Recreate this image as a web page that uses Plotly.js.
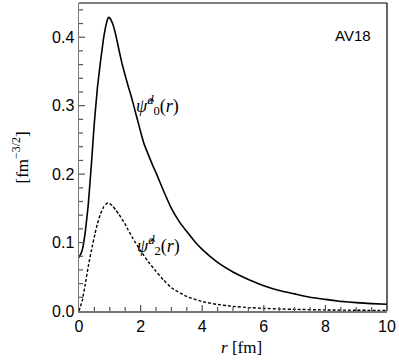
<!DOCTYPE html>
<html>
<head>
<meta charset="utf-8">
<script src="https://cdn.plot.ly/plotly-3.0.1.min.js"></script>
<style>html,body{margin:0;padding:0;background:#fff;}#chart{width:399px;height:360px;}</style>
</head>
<body>
<div id="chart"></div>
<script>
const rS = [0, 0.1, 0.2, 0.3, 0.4, 0.5, 0.6, 0.7, 0.8, 0.9, 0.95, 1.0, 1.1, 1.2, 1.3, 1.4, 1.5, 1.6, 1.7, 1.8, 1.9, 2.0, 2.1, 2.2, 2.3, 2.4, 2.52, 2.75, 3.0, 3.25, 3.5, 3.75, 4.0, 4.5, 5.0, 5.5, 6.0, 6.5, 7.0, 7.5, 8.0, 8.5, 9.0, 9.5, 10.0];
const psi0 = [0.078, 0.088, 0.114, 0.155, 0.213, 0.276, 0.327, 0.365, 0.399, 0.422, 0.429, 0.428, 0.419, 0.402, 0.381, 0.361, 0.344, 0.328, 0.313, 0.296, 0.279, 0.262, 0.246, 0.234, 0.223, 0.212, 0.200, 0.175, 0.150, 0.131, 0.116, 0.102, 0.090, 0.071, 0.057, 0.046, 0.037, 0.030, 0.025, 0.020, 0.017, 0.0140, 0.0122, 0.0108, 0.0098];
const rD = [0, 0.11, 0.2, 0.3, 0.4, 0.52, 0.6, 0.7, 0.8, 0.9, 0.95, 1.0, 1.1, 1.2, 1.3, 1.4, 1.5, 1.6, 1.75, 2.0, 2.25, 2.5, 2.75, 3.0, 3.5, 4.0, 4.5, 5.0, 5.5, 6.0, 6.5, 7.0, 8.0, 9.0, 10.0];
const psi2 = [0, 0.016, 0.038, 0.065, 0.088, 0.113, 0.128, 0.142, 0.152, 0.157, 0.158, 0.157, 0.153, 0.147, 0.141, 0.134, 0.127, 0.118, 0.106, 0.088, 0.072, 0.058, 0.045, 0.034, 0.021, 0.0138, 0.0095, 0.0068, 0.005, 0.0038, 0.003, 0.0024, 0.0016, 0.0011, 0.0008];
const xMinorStep = 0.5, xMajorStep = 2, xMax = 10;
const yMinorStep = 0.02, yMajorStep = 0.1, yMax = 0.45;

const serif = "'Liberation Serif', 'Times New Roman', serif";
const sans = "'Liberation Sans', Arial, sans-serif";
const traces = [
  {x: rS, y: psi0, mode: 'lines', line: {color: '#000', width: 1.6, shape: 'spline', smoothing: 0.3}, hoverinfo: 'skip'},
  {x: rD, y: psi2, mode: 'lines', line: {color: '#000', width: 1.4, dash: '3px,2px', shape: 'spline', smoothing: 0.3}, hoverinfo: 'skip'}
];

const plotW = 399 - 79 - 12, plotH = 360 - 3 - 49;
const tickShapes = [];
for (let k = 1; k * xMinorStep < xMax - 1e-9; k++) {
  const v = k * xMinorStep;
  const major = Math.abs(v / xMajorStep - Math.round(v / xMajorStep)) < 1e-6;
  tickShapes.push({type: 'line', xref: 'x', yref: 'paper', x0: v, x1: v, y0: 0, y1: (major ? 6 : 4) / plotH, line: {color: '#555', width: 1.2}});
}
for (let k = 1; k * yMinorStep < yMax - 1e-9; k++) {
  const v = k * yMinorStep;
  const major = Math.abs(v / yMajorStep - Math.round(v / yMajorStep)) < 1e-6;
  tickShapes.push({type: 'line', xref: 'paper', yref: 'y', x0: 0, x1: (major ? 6 : 4) / plotW, y0: v, y1: v, line: {color: '#555', width: 1.2}});
}

const layout = {
  width: 399, height: 360,
  margin: {l: 79, r: 12, t: 3, b: 49},
  paper_bgcolor: '#fff', plot_bgcolor: '#fff',
  showlegend: false,
  xaxis: {
    range: [0, xMax], tickmode: 'linear', tick0: 0, dtick: xMajorStep, ticks: '',
    showline: true, linecolor: '#777', linewidth: 1.5, showgrid: false, zeroline: false,
    tickfont: {family: sans, size: 16, color: '#000'}
  },
  yaxis: {
    range: [0, yMax], tickmode: 'linear', tick0: 0, dtick: yMajorStep, tickformat: '.1f', ticks: '',
    showline: true, linecolor: '#777', linewidth: 1.5, showgrid: false, zeroline: false,
    tickfont: {family: sans, size: 16, color: '#000'}
  },
  shapes: tickShapes.concat([
    {type: 'line', xref: 'paper', yref: 'paper', x0: 0, x1: 1, y0: 1, y1: 1, line: {color: '#000', width: 1.2}},
    {type: 'line', xref: 'paper', yref: 'paper', x0: 1, x1: 1, y0: 0, y1: 1, line: {color: '#000', width: 1.2}}
  ]),
  annotations: [
    {x: 2.55, y: 0.30, xref: 'x', yref: 'y', showarrow: false, text: '<i>\u03C8\u0302</i><sup><i>d</i></sup><sub>0</sub>(<i>r</i>)', font: {family: serif, size: 18, color: '#000'}},
    {x: 2.57, y: 0.096, xref: 'x', yref: 'y', showarrow: false, text: '<i>\u03C8\u0302</i><sup><i>d</i></sup><sub>2</sub>(<i>r</i>)', font: {family: serif, size: 18, color: '#000'}},
    {x: 0.955, y: 0.93, xref: 'paper', yref: 'paper', xanchor: 'right', showarrow: false, text: 'AV18', font: {family: sans, size: 15, color: '#000'}},
    {x: 0.526, y: -0.12, xref: 'paper', yref: 'paper', xanchor: 'center', yanchor: 'middle', showarrow: false, text: '<i>r</i> [fm]', font: {family: serif, size: 17, color: '#000'}},
    {x: -0.19, y: 0.5, xref: 'paper', yref: 'paper', xanchor: 'center', yanchor: 'middle', showarrow: false, textangle: -90, text: '[fm<sup>\u22123/2</sup>]', font: {family: serif, size: 17, color: '#000'}}
  ]
};
Plotly.newPlot('chart', traces, layout, {staticPlot: true, displayModeBar: false});
</script>
</body>
</html>
